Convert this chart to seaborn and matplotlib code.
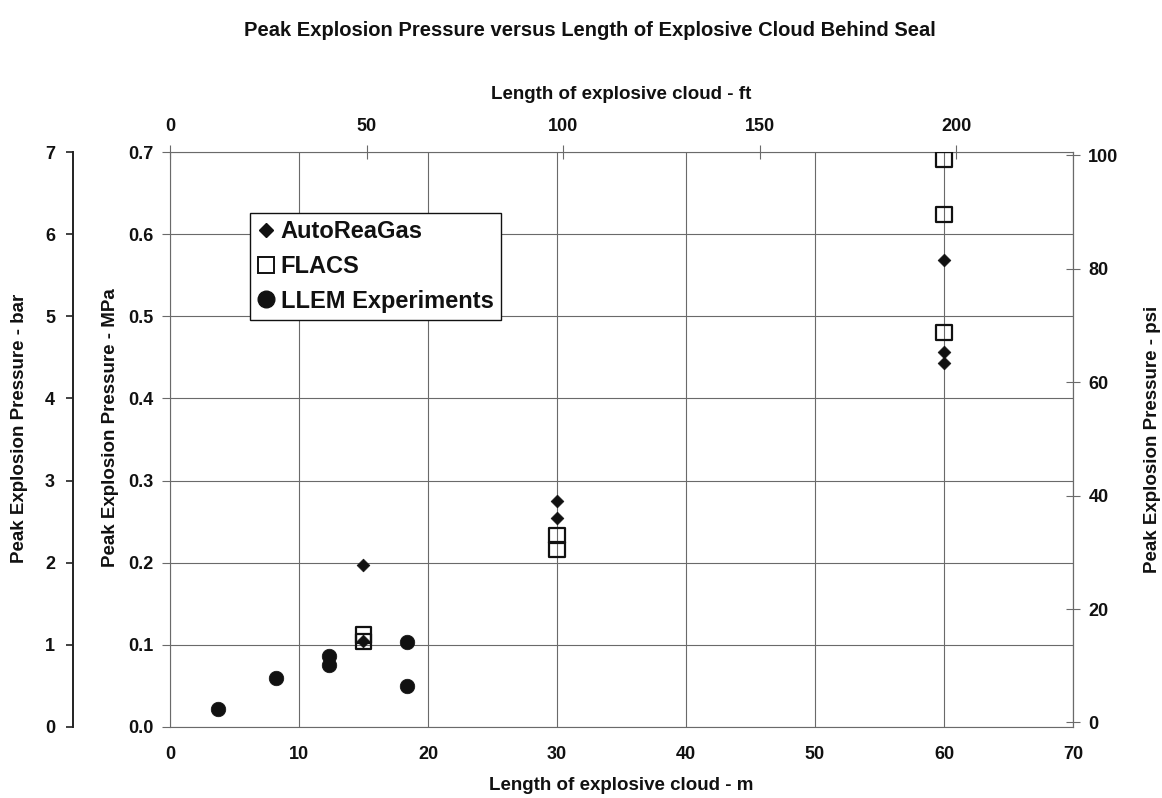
import matplotlib
matplotlib.use("Agg")
import matplotlib.pyplot as plt
import pandas as pd
import seaborn as sns
from matplotlib.lines import Line2D

# Peak pressure (MPa) against cloud length (m) for each source
series_names = ["AutoReaGas", "FLACS", "LLEM Experiments"]

autoreagas_m = [15, 15, 30, 30, 60, 60, 60]
autoreagas_mpa = [0.197, 0.105, 0.275, 0.255, 0.568, 0.457, 0.443]

flacs_m = [15, 15, 30, 30, 60, 60, 60]
flacs_mpa = [0.112, 0.104, 0.233, 0.216, 0.691, 0.624, 0.480]

llem_m = [3.7, 8.25, 12.3, 12.3, 18.35, 18.35]
llem_mpa = [0.022, 0.060, 0.086, 0.076, 0.103, 0.050]

m_ticks = [0, 10, 20, 30, 40, 50, 60, 70]
mpa_ticks = [0.0, 0.1, 0.2, 0.3, 0.4, 0.5, 0.6, 0.7]
bar_ticks = [0, 1, 2, 3, 4, 5, 6, 7]
psi_ticks = [0, 20, 40, 60, 80, 100]
ft_ticks = [0, 50, 100, 150, 200]

FT_PER_M = 1 / 0.3048

df = pd.concat([
    pd.DataFrame({"length_m": autoreagas_m, "pressure_mpa": autoreagas_mpa, "source": series_names[0]}),
    pd.DataFrame({"length_m": flacs_m, "pressure_mpa": flacs_mpa, "source": series_names[1]}),
    pd.DataFrame({"length_m": llem_m, "pressure_mpa": llem_mpa, "source": series_names[2]}),
], ignore_index=True)

sns.set_theme(style="white")
plt.rcParams["font.family"] = ["Liberation Sans", "DejaVu Sans"]
plt.rcParams["font.weight"] = "bold"

INK = "#111111"
GRID = "#6a6a6a"
TICK_FS = 13
LABEL_FS = 13.5

fig = plt.figure(figsize=(11.62, 7.98), dpi=100)
ax = fig.add_axes([0.1463, 0.0890, 0.7771, 0.7205])

# Series markers
sns.scatterplot(data=df[df.source == "FLACS"], x="length_m", y="pressure_mpa",
                marker="s", s=118, facecolor="none", edgecolor=INK, linewidth=1.6,
                ax=ax, legend=False, zorder=3)
sns.scatterplot(data=df[df.source == "AutoReaGas"], x="length_m", y="pressure_mpa",
                marker="D", s=42, color=INK, edgecolor=INK, linewidth=0.5,
                ax=ax, legend=False, zorder=4)
sns.scatterplot(data=df[df.source == "LLEM Experiments"], x="length_m", y="pressure_mpa",
                marker="o", s=110, color=INK, edgecolor=INK, linewidth=0.5,
                ax=ax, legend=False, zorder=4)

ax.set_xlim(0, 70)
ax.set_ylim(0, 0.7)
ax.set_xticks(m_ticks)
ax.set_yticks(mpa_ticks)
ax.set_xticklabels([str(t) for t in m_ticks])
ax.set_yticklabels([f"{t:.1f}" for t in mpa_ticks])
ax.grid(True, color=GRID, linewidth=0.8)
for side, sp in ax.spines.items():
    sp.set_color(GRID)
    sp.set_linewidth(0.8)
ax.tick_params(axis="both", direction="out", length=6, width=0.8, color=GRID,
               labelsize=TICK_FS, labelcolor=INK)
ax.tick_params(axis="y", pad=6)
ax.tick_params(axis="x", pad=8)

ax.set_xlabel("Length of explosive cloud - m", fontsize=LABEL_FS, fontweight="bold",
              color=INK, va="center")
ax.xaxis.set_label_coords(0.5, -0.102)
ax.set_ylabel("Peak Explosion Pressure - MPa", fontsize=LABEL_FS, fontweight="bold",
              color=INK, va="center")
ax.yaxis.set_label_coords(-0.066, 0.52)

# Top axis in feet
top = ax.secondary_xaxis("top", functions=(lambda m: m * FT_PER_M, lambda ft: ft / FT_PER_M))
top.set_xticks(ft_ticks)
top.set_xticklabels([str(t) for t in ft_ticks])
top.tick_params(direction="inout", length=10, width=0.8, color=GRID,
                labelsize=TICK_FS, labelcolor=INK, pad=7)
top.spines["top"].set_visible(False)
top.set_xlabel("Length of explosive cloud - ft", fontsize=LABEL_FS, fontweight="bold",
               color=INK, labelpad=14)

# Outer left axis in bar
ax_bar = ax.twinx()
ax_bar.set_ylim(0, 7)
ax_bar.set_yticks(bar_ticks)
ax_bar.set_yticklabels([str(t) for t in bar_ticks])
ax_bar.yaxis.tick_left()
ax_bar.yaxis.set_label_position("left")
for side in ("top", "right", "bottom"):
    ax_bar.spines[side].set_visible(False)
ax_bar.spines["left"].set_position(("axes", -0.1074))
ax_bar.spines["left"].set_color("#222222")
ax_bar.spines["left"].set_linewidth(1.4)
ax_bar.tick_params(axis="y", direction="out", length=5, width=1.2, color="#222222",
                   labelsize=TICK_FS, labelcolor=INK, pad=8)
ax_bar.set_ylabel("Peak Explosion Pressure - bar", fontsize=LABEL_FS, fontweight="bold",
                  color=INK)
ax_bar.yaxis.label.set_va("center")
ax_bar.yaxis.set_label_coords(-0.167, 0.52)

# Right axis in psi
ax_psi = ax.twinx()
ax_psi.set_ylim(-0.8, 100.6)
ax_psi.set_yticks(psi_ticks)
ax_psi.set_yticklabels([str(t) for t in psi_ticks])
for side in ("top", "left", "bottom"):
    ax_psi.spines[side].set_visible(False)
ax_psi.spines["right"].set_color(GRID)
ax_psi.spines["right"].set_linewidth(0.8)
ax_psi.tick_params(axis="y", direction="inout", length=10, width=0.8, color=GRID,
                   labelsize=TICK_FS, labelcolor=INK, pad=6)
ax_psi.set_ylabel("Peak Explosion Pressure - psi", fontsize=LABEL_FS, fontweight="bold",
                  color=INK)
ax_psi.yaxis.label.set_va("center")
ax_psi.yaxis.set_label_coords(1.0875, 0.5)

# Legend
handles = [
    Line2D([], [], linestyle="none", marker="D", markersize=7, color=INK),
    Line2D([], [], linestyle="none", marker="s", markersize=12, markerfacecolor="none",
           markeredgecolor=INK, markeredgewidth=1.4),
    Line2D([], [], linestyle="none", marker="o", markersize=12, color=INK),
]
leg = ax_psi.legend(handles, series_names, loc="upper left", bbox_to_anchor=(0.0886, 0.894),
                    bbox_transform=ax.transAxes, borderaxespad=0, frameon=True,
                    fancybox=False, framealpha=1, edgecolor=INK,
                    prop={"size": 17, "weight": "bold"}, handlelength=0.75,
                    handletextpad=0.25, labelspacing=0.5, borderpad=0.3)
leg.get_frame().set_linewidth(1.0)
for t in leg.get_texts():
    t.set_color(INK)

fig.suptitle("Peak Explosion Pressure versus Length of Explosive Cloud Behind Seal",
             x=0.508, y=0.962, va="center", fontsize=14.5, fontweight="bold", color=INK)

fig.savefig("out.png", dpi=100, facecolor="white")
